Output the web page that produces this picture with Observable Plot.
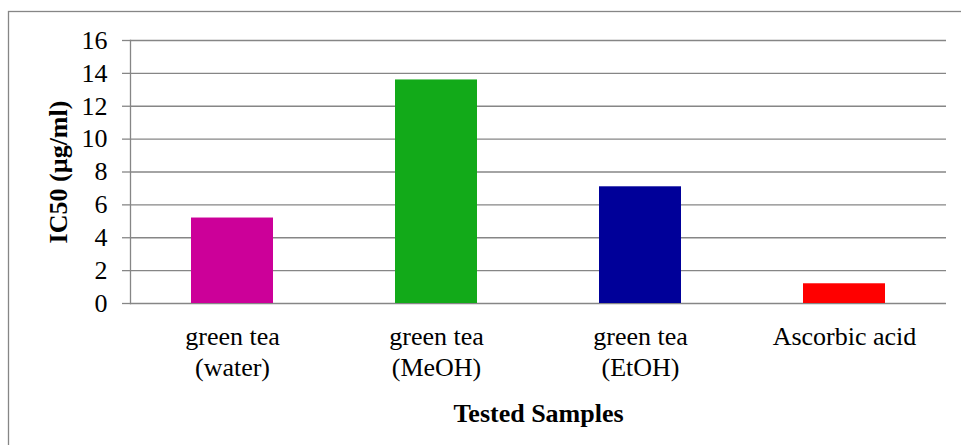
<!DOCTYPE html>
<html>
<head>
<meta charset="utf-8">
<script src="https://cdn.jsdelivr.net/npm/d3@7"></script>
<script src="https://cdn.jsdelivr.net/npm/@observablehq/plot@0.6"></script>
<style>
  html, body { margin: 0; padding: 0; background: #fff; }
  #chart svg { display: block; }
  #chart svg text { font-family: 'Liberation Serif', 'Times New Roman', serif; }
  g[aria-label="x-axis label"] text,
  g.axis-title text { font-weight: bold; }
</style>
</head>
<body>
<div id="chart"></div>
<script>
// IC50 of green tea extracts against the ascorbic acid reference
const samples = ["green tea\n(water)", "green tea\n(MeOH)", "green tea\n(EtOH)", "Ascorbic acid"];
const ic50 = [5.2, 13.6, 7.1, 1.2];
const barColors = ["#cc0099", "#12aa19", "#000099", "#ff0000"];
const yTicks = [0, 2, 4, 6, 8, 10, 12, 14, 16];
const yTitle = "IC50 (µg/ml)";
const xTitle = "Tested Samples";

const rows = samples.map((s, i) => ({sample: s, value: ic50[i], color: barColors[i]}));
const gray = "#868686";

const chart = Plot.plot({
  width: 961,
  height: 445,
  marginLeft: 130,
  marginRight: 15,
  marginTop: 40,
  marginBottom: 142,
  style: {fontFamily: "'Liberation Serif', 'Times New Roman', serif", fontSize: "26px", color: "black", background: "white"},
  x: {domain: samples, paddingInner: 0.6, paddingOuter: 0.3, label: null},
  y: {domain: [0, 16], ticks: yTicks, label: null},
  marks: [
    Plot.gridY(yTicks, {stroke: gray, strokeOpacity: 1, strokeWidth: 1.3}),
    Plot.frame({anchor: "left", stroke: gray, strokeWidth: 1.3}),
    Plot.axisY(yTicks, {tickSize: 8, tickPadding: 15, stroke: gray, strokeWidth: 1.3, fill: "black", label: null}),
    Plot.barY(rows, {x: "sample", y: "value", fill: "color"}),
    Plot.axisX({tickSize: 0, tickPadding: 20, lineHeight: 1.17, fill: "black",
      label: xTitle, labelAnchor: "center", labelOffset: 118}),
    Plot.text([yTitle], {text: d => d, frameAnchor: "left", textAnchor: "middle", rotate: -90, dx: -72,
      fill: "black", fontWeight: "bold", className: "axis-title"})
  ]
});

document.getElementById("chart").append(chart);

// outer chart-area border
d3.select(chart).append("rect")
  .attr("x", 8.5).attr("y", 11.5)
  .attr("width", 960).attr("height", 440)
  .attr("fill", "none").attr("stroke", gray).attr("stroke-width", 1.3);
</script>
</body>
</html>
